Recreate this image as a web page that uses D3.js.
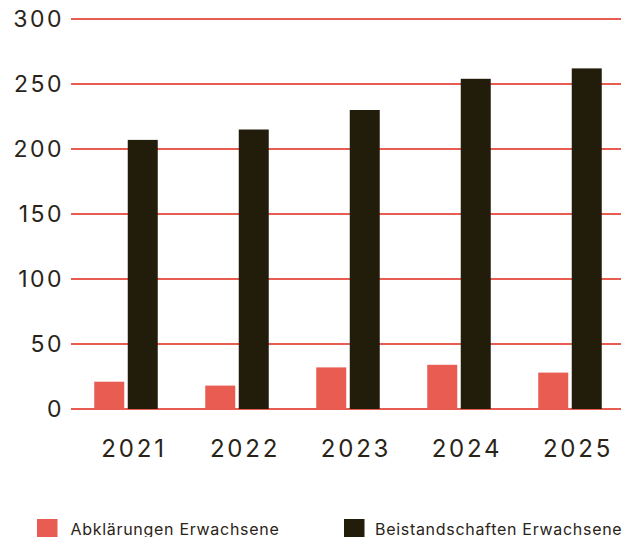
<!DOCTYPE html>
<html>
<head>
<meta charset="utf-8">
<script src="https://cdn.jsdelivr.net/npm/d3@7"></script>
<style>
  body { margin: 0; background: #fff; }
  text { font-family: "Inter", "DejaVu Sans", sans-serif; fill: #2a2418; }
</style>
</head>
<body>
<script>
const years = ["2021", "2022", "2023", "2024", "2025"];
const abklaerungen = [21, 18, 32, 34, 28];
const beistandschaften = [207, 215, 230, 254, 262];
const seriesNames = ["Abklärungen Erwachsene", "Beistandschaften Erwachsene"];
const seriesColors = ["#e85c52", "#221c0b"];
const yTicks = [0, 50, 100, 150, 200, 250, 300];

const width = 623,
  height = 537;
const plot = { left: 71, right: 621, top: 19, bottom: 409 };

const svg = d3
  .select("body")
  .append("svg")
  .attr("width", width)
  .attr("height", height);

const y = d3.scaleLinear().domain([0, 300]).range([plot.bottom, plot.top]);

const x = d3
  .scaleBand()
  .domain(years)
  .range([70.5, 625.5])
  .paddingInner(0.42)
  .paddingOuter(0.21);

const barW = 30;
const gap = 3.5;

// gridlines
svg
  .append("g")
  .selectAll("line")
  .data(yTicks)
  .enter()
  .append("line")
  .attr("x1", plot.left)
  .attr("x2", plot.right)
  .attr("y1", (d) => y(d))
  .attr("y2", (d) => y(d))
  .attr("stroke", seriesColors[0])
  .attr("stroke-width", 2);

// y labels
svg
  .append("g")
  .selectAll("text")
  .data(yTicks)
  .enter()
  .append("text")
  .attr("x", 64)
  .attr("y", (d) => y(d))
  .attr("dy", "0.36em")
  .attr("text-anchor", "end")
  .attr("font-size", 23)
  .attr("letter-spacing", 2.5)
  .text((d) => d);

const groups = svg
  .append("g")
  .selectAll("g")
  .data(years)
  .enter()
  .append("g")
  .attr("transform", (d) => `translate(${x(d) + x.bandwidth() / 2},0)`);

groups
  .append("rect")
  .attr("x", -barW - gap / 2)
  .attr("width", barW)
  .attr("y", (d, i) => y(abklaerungen[i]))
  .attr("height", (d, i) => y(0) - y(abklaerungen[i]))
  .attr("fill", seriesColors[0]);

groups
  .append("rect")
  .attr("x", gap / 2)
  .attr("width", barW)
  .attr("y", (d, i) => y(beistandschaften[i]))
  .attr("height", (d, i) => y(0) - y(beistandschaften[i]))
  .attr("fill", seriesColors[1]);

// x labels
groups
  .append("text")
  .attr("x", 8)
  .attr("y", 457)
  .attr("text-anchor", "middle")
  .attr("font-size", 24)
  .attr("letter-spacing", 2.8)
  .text((d) => d);

// legend
const legendX = [37, 344];
const legend = svg
  .append("g")
  .selectAll("g")
  .data(seriesNames)
  .enter()
  .append("g")
  .attr("transform", (d, i) => `translate(${legendX[i]},519)`);

legend
  .append("rect")
  .attr("width", 20.5)
  .attr("height", 20)
  .attr("fill", (d, i) => seriesColors[i]);

legend
  .append("text")
  .attr("x", (d, i) => (i ? 31 : 33.5))
  .attr("y", 15.5)
  .attr("font-size", 16)
  .attr("letter-spacing", 0.7)
  .text((d) => d);
</script>
</body>
</html>
